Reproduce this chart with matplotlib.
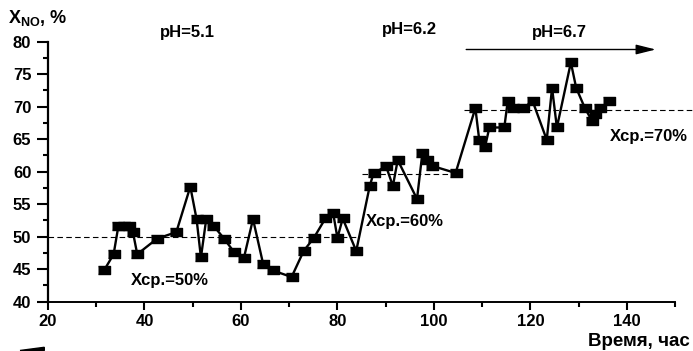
import matplotlib
matplotlib.use("Agg")
import matplotlib.pyplot as plt
from matplotlib.pyplot import MultipleLocator
from matplotlib.patches import Polygon

plt.rcParams.update({
	"font.family": ["Liberation Sans", "DejaVu Sans"],
	"font.weight": "bold",
	"mathtext.fontset": "custom",
	"mathtext.rm": "Liberation Sans:bold",
	"mathtext.bf": "Liberation Sans:bold",
})
font_size = 12

# time, h
time_h = [31.6, 33.6, 34.6, 35.7, 36.7, 37.6, 38.5, 42.6, 46.6, 49.5,
	50.8, 51.7, 52.8, 54.3, 56.5, 58.5, 60.6, 62.5, 64.6, 66.6,
	70.5, 73.0, 75.1, 77.5, 79.1, 80.0, 81.1, 83.9, 86.7, 87.5,
	90.1, 91.5, 92.5, 96.5, 97.6, 98.6, 99.6, 104.5, 108.6, 109.4,
	110.6, 111.5, 114.6, 115.3, 116.5, 118.4, 120.5, 123.4, 124.5, 125.5,
	128.4, 129.5, 131.3, 132.8, 133.4, 134.5, 136.4]
# conversion X_NO, %
x_no = [44.8, 47.3, 51.7, 51.7, 51.7, 50.7, 47.3, 49.7, 50.7, 57.7,
	52.7, 46.8, 52.7, 51.7, 49.7, 47.7, 46.7, 52.7, 45.8, 44.8,
	43.8, 47.8, 49.8, 52.8, 53.7, 49.8, 52.8, 47.8, 57.8, 59.8,
	60.8, 57.8, 61.8, 55.8, 62.8, 61.8, 60.9, 59.8, 69.8, 64.9,
	63.8, 66.8, 66.8, 70.8, 69.8, 69.8, 70.8, 64.9, 72.9, 66.8,
	76.8, 72.9, 69.8, 67.8, 68.8, 69.8, 70.8]

# mean levels per pH stage
mean_levels = [50.0, 59.7, 69.5]
mean_spans = [(20, 84), (85, 104.3), (106.3, 153.5)]
mean_labels = ["Хср.=50%", "Хср.=60%", "Хср.=70%"]
mean_label_pos = [(45.3, 43.2), (94.0, 52.3), (144.6, 65.4)]

ph_labels = ["pH=5.1", "pH=6.2", "pH=6.7"]
ph_pos = [(49.0, 81.4), (94.9, 81.9), (126.0, 81.4)]

fig = plt.figure(figsize=(6.93, 3.51), dpi=100)
ax = fig.add_axes([0.0693, 0.1405, 0.9048, 0.7407])

ax.set_xlim(20, 150)
ax.set_ylim(40, 80)
ax.xaxis.set_major_locator(MultipleLocator(20))
ax.xaxis.set_minor_locator(MultipleLocator(10))
ax.yaxis.set_major_locator(MultipleLocator(5))
ax.yaxis.set_minor_locator(MultipleLocator(2.5))
ax.tick_params(which='major', length=6, width=1.5, direction='out', labelsize=font_size, pad=3)
ax.tick_params(axis='y', which='major', length=8, pad=4)
ax.tick_params(which='minor', length=3.5, width=1.5, direction='out')
for lab in ax.get_xticklabels() + ax.get_yticklabels():
	lab.set_fontweight('bold')

ax.spines['top'].set_visible(False)
ax.spines['right'].set_visible(False)
ax.spines['left'].set_linewidth(1.6)
ax.spines['bottom'].set_linewidth(1.4)

rect = [(-1, -0.8), (1, -0.8), (1, 0.8), (-1, 0.8)]
ax.plot(time_h, x_no, color='black', linewidth=1.7, marker=rect, markersize=8,
	markerfacecolor='black', markeredgecolor='black', clip_on=False, zorder=3)

for lvl, (x0, x1) in zip(mean_levels, mean_spans):
	ax.plot([x0, x1], [lvl, lvl], color='black', linewidth=0.8, dashes=(5, 3), clip_on=False, zorder=2)

for txt, (tx, ty) in zip(mean_labels, mean_label_pos):
	ax.text(tx, ty, txt, ha='center', va='center', fontsize=font_size, fontweight='bold')

for txt, (tx, ty) in zip(ph_labels, ph_pos):
	ax.text(tx, ty, txt, ha='center', va='center', fontsize=font_size, fontweight='bold')

ax.annotate('', xy=(146, 78.8), xytext=(106.7, 78.8), annotation_clip=False,
	arrowprops=dict(arrowstyle='-|>,head_length=0.8,head_width=0.2', color='black',
	lw=1.0, mutation_scale=15, shrinkA=0, shrinkB=0))

fig.text(0.0115, 0.949, r"X$_{\mathrm{NO}}$, %", ha='left', va='center', fontsize=13, fontweight='bold')
fig.text(0.9957, 0.028, "Время, час", ha='right', va='center', fontsize=13.5, fontweight='bold')

wedge = Polygon([(20 / 693, 0.5 / 351), (44.3 / 693, 3.7 / 351), (44.3 / 693, 0.5 / 351)],
	closed=True, transform=fig.transFigure, color='black')
fig.patches.append(wedge)

plt.savefig("out.png", dpi=100)
